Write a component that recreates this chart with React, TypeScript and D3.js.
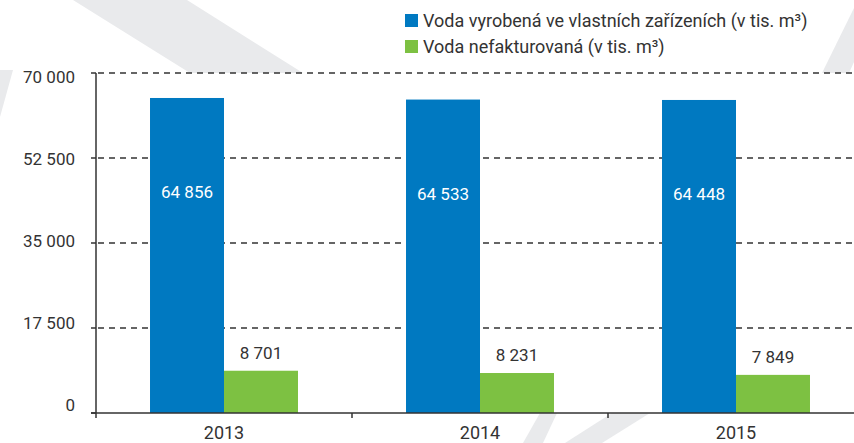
import React from 'react';
import * as d3 from 'd3';

const years = ['2013', '2014', '2015'];
const produced = [64856, 64533, 64448];
const unbilled = [8701, 8231, 7849];
const yTicks = [0, 17500, 35000, 52500, 70000];
const seriesNames = [
  'Voda vyrobená ve vlastních zařízeních (v tis. m³)',
  'Voda nefakturovaná (v tis. m³)',
];
const seriesColors = ['#0079C1', '#7DC142'];

const W = 854;
const H = 443;
const left = 96;
const top = 73;
const bottom = 413;

const locale = d3.formatLocale({ decimal: ',', thousands: ' ', grouping: [3], currency: ['', ''] });
const fmt = locale.format(',');

export default function App() {
  const x = d3.scaleBand<string>().domain(years).range([left, left + 256 * 3]).paddingInner(0).paddingOuter(0);
  const sub = d3.scaleBand<number>().domain([0, 1]).range([0, x.bandwidth()]).paddingInner(0).paddingOuter(0.73);
  const y = d3.scaleLinear().domain([0, 70000]).range([bottom, top]);
  const yLabel = d3.scaleLinear().domain([0, 70000]).range([411, 82.7]);
  const series = [produced, unbilled];
  const textColor = '#333333';
  const wm = '#e9eaec';

  const xTickPositions = years.map((yr) => x(yr) as number);

  return (
    <svg width={W} height={H} style={{ position: 'absolute', left: 0, top: 0, background: '#fff' }}
      fontFamily="Roboto, 'DejaVu Sans', sans-serif">
      {/* watermark */}
      <g fill={wm}>
        <polygon points="73,0 187,0 303,73 190,73" />
        <polygon points="0,70 13,70 0,117" />
        <polygon points="858,0 882,0 849,73 822,73" />
        <polygon points="540,413 557,413 543,443 523,443" />
        <polygon points="612,413 650,413 602,443 565,443" />
      </g>
      <rect x={left} y={top} width={W - left} height={bottom - top} fill="#fff" />

      {/* gridlines */}
      {yTicks.filter((t) => t > 0).map((t) => (
        <line key={t} x1={left + 2} x2={W} y1={y(t)} y2={y(t)} stroke="#333333" strokeWidth={1.3} strokeDasharray="6,5" />
      ))}

      {/* bars */}
      {years.map((yr, i) => (
        <g key={yr}>
          {series.map((s, j) => (
            <rect key={j} x={(x(yr) as number) + (sub(j) as number)} y={y(s[i])}
              width={sub.bandwidth()} height={bottom - y(s[i])} fill={seriesColors[j]} />
          ))}
        </g>
      ))}

      {/* value labels */}
      {years.map((yr, i) => (
        <g key={'l' + yr} fontSize={17}>
          <text x={(x(yr) as number) + (sub(0) as number) + sub.bandwidth() / 2} y={y(produced[i]) + 100}
            textAnchor="middle" fill="#ffffff">{fmt(produced[i])}</text>
          <text x={(x(yr) as number) + (sub(1) as number) + sub.bandwidth() / 2} y={y(unbilled[i]) - 12}
            textAnchor="middle" fill={textColor}>{fmt(unbilled[i])}</text>
        </g>
      ))}

      {/* y axis */}
      <line x1={left} x2={left} y1={top} y2={bottom} stroke={textColor} strokeWidth={1.5} />
      {yTicks.map((t) => (
        <g key={'yt' + t}>
          <line x1={left - 5} x2={left} y1={y(t)} y2={y(t)} stroke={textColor} strokeWidth={1.5} />
          <text x={75} y={yLabel(t)} textAnchor="end" fontSize={17} fill={textColor}>{fmt(t)}</text>
        </g>
      ))}

      {/* x axis */}
      <line x1={left - 5} x2={W} y1={bottom} y2={bottom} stroke={textColor} strokeWidth={1.5} />
      {xTickPositions.map((px, i) => (
        <line key={'xt' + i} x1={px} x2={px} y1={bottom} y2={bottom + 5} stroke={textColor} strokeWidth={1.5} />
      ))}
      {years.map((yr) => (
        <text key={'xl' + yr} x={(x(yr) as number) + x.bandwidth() / 2} y={439} textAnchor="middle"
          fontSize={18} fill={textColor}>{yr}</text>
      ))}

      {/* legend */}
      {seriesNames.map((name, j) => (
        <g key={'lg' + j} transform={`translate(405, ${14 + j * 26})`}>
          <rect x={0} y={0} width={13} height={13} fill={seriesColors[j]} />
          <text x={18} y={13} fontSize={18} fill={textColor}>{name}</text>
        </g>
      ))}
    </svg>
  );
}
